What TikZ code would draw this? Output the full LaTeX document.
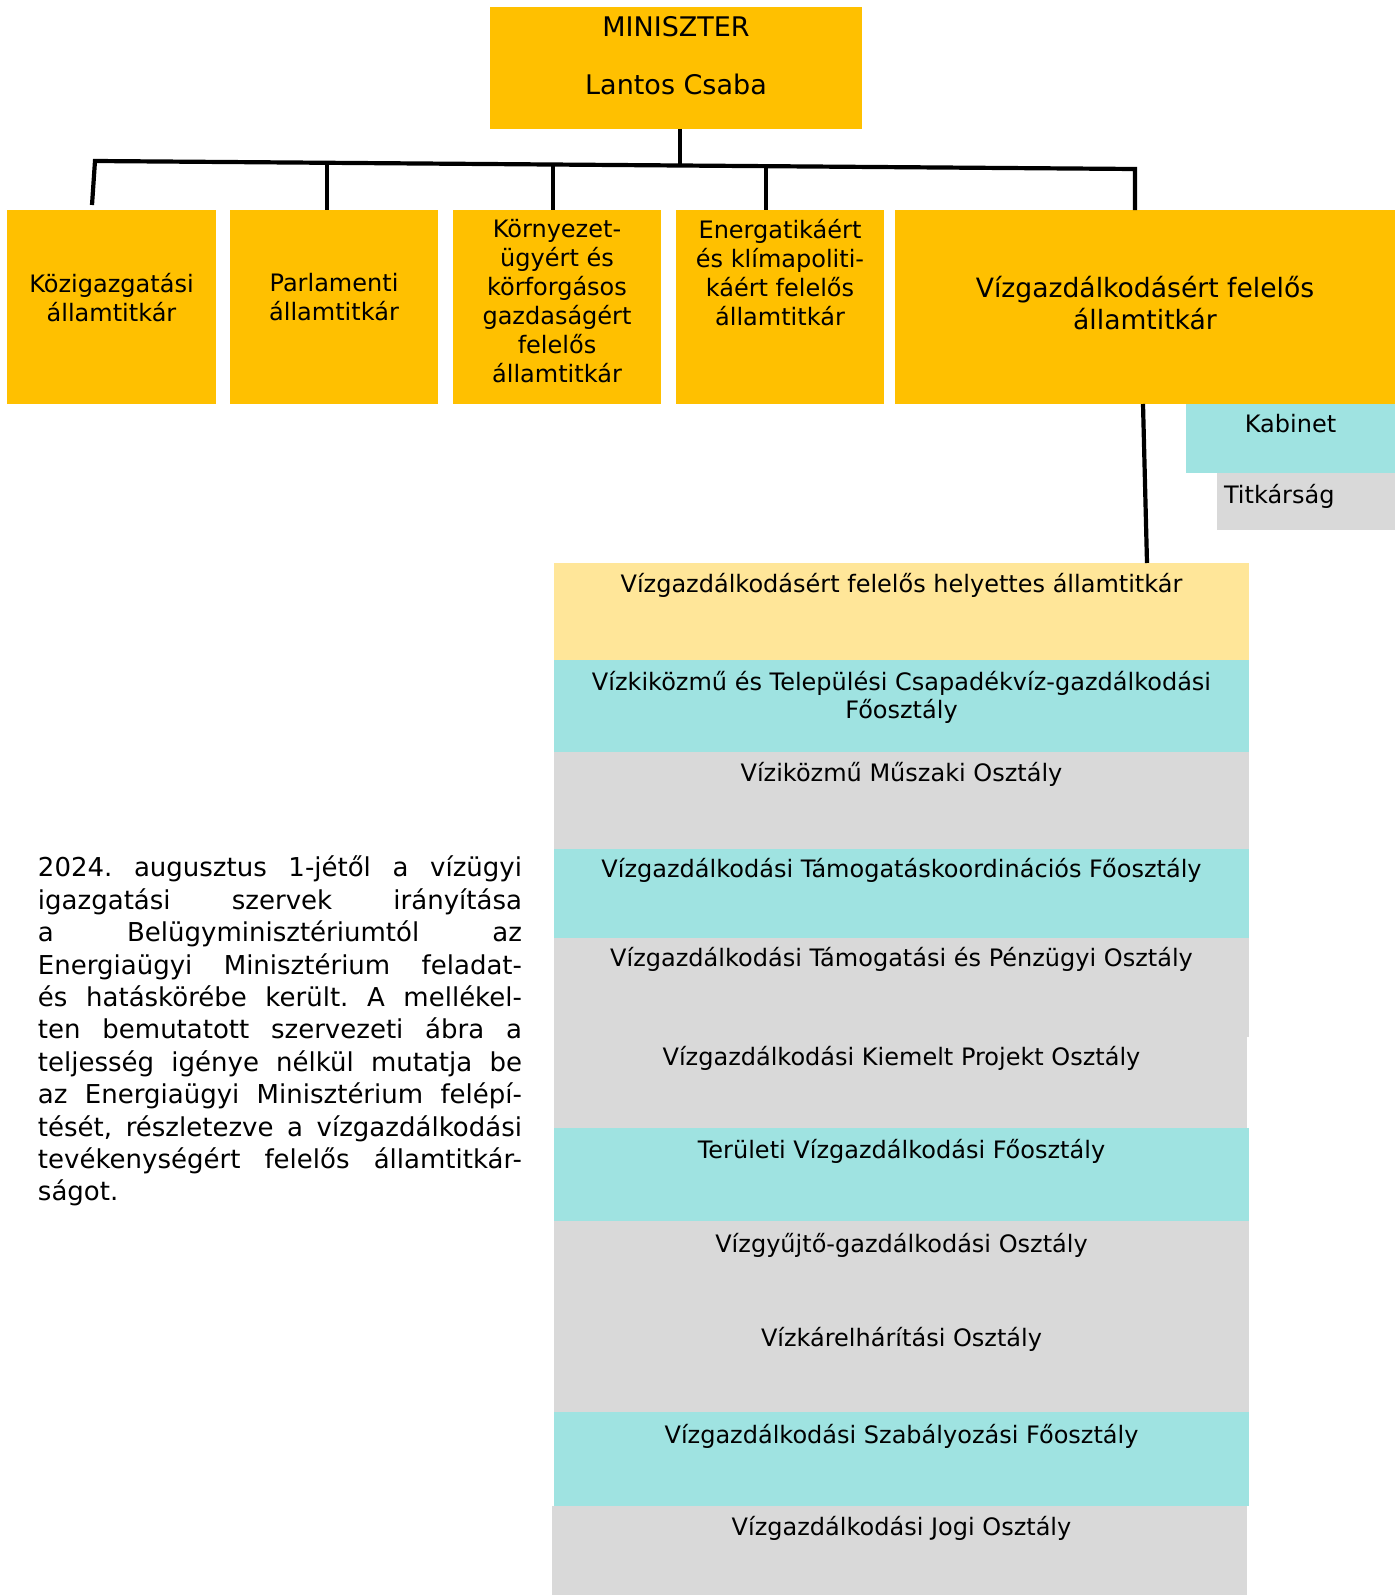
\documentclass[tikz,border=0pt]{standalone}
\usepackage{fontspec}
\setmainfont{DejaVu Sans}
\frenchspacing
\definecolor{gold}{HTML}{FFC000}
\definecolor{paleyellow}{HTML}{FFE699}
\definecolor{teal}{HTML}{9FE3E1}
\definecolor{lgray}{HTML}{D9D9D9}
\begin{document}
\begin{tikzpicture}[x=0.5pt,y=-0.5pt,
  box/.style={draw=none,inner sep=0pt,outer sep=0pt,anchor=north west},
  conn/.style={line width=2.1pt,black},
  lbl/.style={inner sep=0pt,outer sep=0pt,align=center,font=\fontsize{12pt}{14.5pt}\selectfont},
  biglbl/.style={inner sep=0pt,outer sep=0pt,align=center,font=\fontsize{13.3pt}{16.25pt}\selectfont},
  rowlbl/.style={lbl,anchor=base}]
\useasboundingbox (0,0) rectangle (1400,1595);
% --- boxes
\node[box,fill=gold,minimum width=186pt,minimum height=61pt] (m) at (490,7) {};
\node[box,fill=gold,minimum width=104.5pt,minimum height=97pt] (b1) at (7,210) {};
\node[box,fill=gold,minimum width=104pt,minimum height=97pt] (b2) at (230,210) {};
\node[box,fill=gold,minimum width=104pt,minimum height=97pt] (b3) at (453,210) {};
\node[box,fill=gold,minimum width=104pt,minimum height=97pt] (b4) at (676,210) {};
\node[box,fill=gold,minimum width=250pt,minimum height=97pt] (b5) at (895,210) {};
\node[box,fill=teal,minimum width=104.5pt,minimum height=34.5pt] (kab) at (1186,404) {};
\node[box,fill=lgray,minimum width=89pt,minimum height=28.5pt] (tit) at (1217,473) {};
\node[box,fill=paleyellow,minimum width=347.5pt,minimum height=48.5pt] (s0) at (554,563) {};
\node[box,fill=teal,minimum width=347.5pt,minimum height=46pt] (s1) at (554,660) {};
\node[box,fill=lgray,minimum width=347.5pt,minimum height=48.5pt] (s2) at (554,752) {};
\node[box,fill=teal,minimum width=347.5pt,minimum height=44.5pt] (s3) at (554,849) {};
\node[box,fill=lgray,minimum width=347.5pt,minimum height=49.5pt] (s4) at (554,938) {};
\node[box,fill=lgray,minimum width=346.5pt,minimum height=45.5pt] (s5) at (554,1037) {};
\node[box,fill=teal,minimum width=347.5pt,minimum height=46.5pt] (s6) at (554,1128) {};
\node[box,fill=lgray,minimum width=347.5pt,minimum height=48pt] (s7) at (554,1221) {};
\node[box,fill=lgray,minimum width=347.5pt,minimum height=47.5pt] (s8) at (554,1317) {};
\node[box,fill=teal,minimum width=347.5pt,minimum height=47pt] (s9) at (554,1412) {};
\node[box,fill=lgray,minimum width=347.5pt,minimum height=44.5pt] (s10) at (552,1506) {};
% --- texts
\node[biglbl,anchor=base,font=\fontsize{13.5pt}{16pt}\selectfont] (tm1) at (676,37) {MINISZTER};
\node[biglbl,anchor=base,font=\fontsize{13.5pt}{16pt}\selectfont] (tm2) at (676,94.5) {Lantos Csaba};
\node[lbl,anchor=north] (t1) at (111.5,273) {Közigazgatási\\államtitkár};
\node[lbl,anchor=north] (t2) at (334,273) {Parlamenti\\államtitkár};
\node[lbl,anchor=north] (t3) at (557,219) {Környezet-\\ügyért és\\körforgásos\\gazdaságért\\felelős\\államtitkár};
\node[lbl,anchor=north] (t4) at (780,219) {Energatikáért\\és klímapoliti-\\káért felelős\\államtitkár};
\node[biglbl,anchor=north] (t5) at (1145,276) {Vízgazdálkodásért felelős\\államtitkár};
\node[rowlbl] (tkab) at (1290.5,432) {Kabinet};
\node[lbl,anchor=base west] (ttit) at (1224,503.5) {Titkárság};
\node[rowlbl] (ts0) at (901.5,592) {Vízgazdálkodásért felelős helyettes államtitkár};
\node[lbl,anchor=north,font=\fontsize{12pt}{14pt}\selectfont] (ts1) at (901.5,671) {Vízkiközmű és Települési Csapadékvíz-gazdálkodási\\Főosztály};
\node[rowlbl] (ts2) at (901.5,781) {Víziközmű Műszaki Osztály};
\node[rowlbl] (ts3) at (901.5,877) {Vízgazdálkodási Támogatáskoordinációs Főosztály};
\node[rowlbl] (ts4) at (901.5,966) {Vízgazdálkodási Támogatási és Pénzügyi Osztály};
\node[rowlbl] (ts5) at (901.5,1065) {Vízgazdálkodási Kiemelt Projekt Osztály};
\node[rowlbl] (ts6) at (901.5,1158) {Területi Vízgazdálkodási Főosztály};
\node[rowlbl] (ts7) at (901.5,1252) {Vízgyűjtő-gazdálkodási Osztály};
\node[rowlbl] (ts8) at (901.5,1346) {Vízkárelhárítási Osztály};
\node[rowlbl] (ts9) at (901.5,1443) {Vízgazdálkodási Szabályozási Főosztály};
\node[rowlbl] (ts10) at (901.5,1535) {Vízgazdálkodási Jogi Osztály};
% --- paragraph
\node[inner sep=0pt,outer sep=0pt,anchor=north west,text width=242pt,align=justify,
      font=\fontsize{13pt}{16.2pt}\selectfont] (para) at (38,856)
 {\tolerance=10000\hyphenpenalty=10000\emergencystretch=0pt\frenchspacing
 2024. augusztus 1-jétől a vízügyi\linebreak
 igazgatási szervek irányítása\linebreak
 a Belügyminisztériumtól az\linebreak
 Energiaügyi Minisztérium feladat-\linebreak
 és hatáskörébe került. A mellékel-\linebreak
 ten bemutatott szervezeti ábra a\linebreak
 teljesség igénye nélkül mutatja be\linebreak
 az Energiaügyi Minisztérium felépí-\linebreak
 tését, részletezve a vízgazdálkodási\linebreak
 tevékenységért felelős államtitkár-\linebreak
 ságot.};
% --- connectors
\coordinate (jL) at (95,161);
\coordinate (jR) at (1135,169);
\coordinate (jM) at (680,165.5);
\coordinate (j2) at (327,162.8);
\coordinate (j3) at (553,164.5);
\coordinate (j4) at (766,166.2);
\coordinate (d1) at (92,205);
\coordinate (v1) at (1143,404);
\coordinate (v2) at (1147,563);
\draw[conn] (d1) -- (jL) -- (jR) -- (jR |- b5.north);
\draw[conn] (jM |- m.south) -- (jM);
\draw[conn] (j2) -- (j2 |- b2.north);
\draw[conn] (j3) -- (j3 |- b3.north);
\draw[conn] (j4) -- (j4 |- b4.north);
\draw[conn] (v1 |- b5.south) -- (v2 |- s0.north);
\end{tikzpicture}
\end{document}
